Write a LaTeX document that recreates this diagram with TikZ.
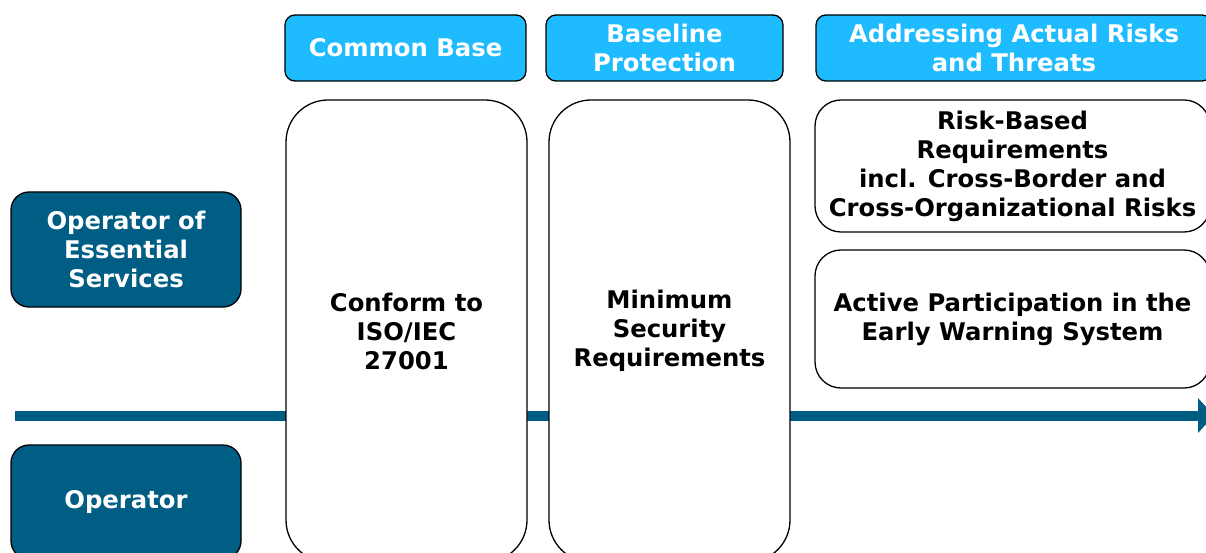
\documentclass[tikz,border=0pt]{standalone}
\usepackage{fontspec}
\setmainfont{DejaVu Sans}
\usetikzlibrary{arrows.meta}
\definecolor{darkblue}{HTML}{005E85}
\definecolor{lightblue}{HTML}{1FBBFF}
\begin{document}
\begin{tikzpicture}[x=1pt,y=-1pt,
  every node/.style={font=\bfseries\fontsize{24.3}{29}\selectfont, align=center, inner sep=0pt},
  darkbox/.style={draw=black, line width=1.3pt, fill=darkblue, text=white, rounded corners=18pt, minimum width=230pt},
  headbox/.style={draw=black, line width=1.3pt, fill=lightblue, text=white, rounded corners=10pt, minimum height=66pt},
  tallbox/.style={draw=black, line width=1.3pt, fill=white, text=black, rounded corners=42pt, minimum width=241pt, minimum height=462pt},
  riskbox/.style={draw=black, line width=1.3pt, fill=white, text=black, rounded corners=26pt, minimum width=395pt},
  flow/.style={draw=darkblue, line width=10pt, -{Triangle[length=16pt,width=34pt]}}
]
\useasboundingbox (0,0) rectangle (1206,553);
\clip (0,0) rectangle (1206,553);
\coordinate (start) at (15,415.5);
\coordinate (end) at (1214,415.5);
\draw[flow] (start) -- (end);

\node[darkbox, minimum height=115pt] (oes) at (126,249.5) {Operator of\\Essential\\Services};
\node[darkbox, minimum height=114pt] (op) at (126,502) {Operator};

\node[headbox, minimum width=241pt] (h1) at (405.5,48) {Common Base};
\node[headbox, minimum width=237pt] (h2) at (664.5,48) {Baseline\\Protection};
\node[headbox, minimum width=396pt] (h3) at (1014,48) {Addressing Actual Risks\\and Threats};

\node[tallbox] (c1) at (406.5,331) {Conform to\\ISO/IEC\\27001};
\node[tallbox] (c2) at (669.5,331) {Minimum\\Security\\Requirements};

\node[riskbox, minimum height=132pt] (r1) at (1012.5,166) {Risk-Based\\Requirements\\incl. Cross-Border and\\Cross-Organizational Risks};
\node[riskbox, minimum height=138pt] (r2) at (1012.5,319) {Active Participation in the\\Early Warning System};
\end{tikzpicture}
\end{document}
